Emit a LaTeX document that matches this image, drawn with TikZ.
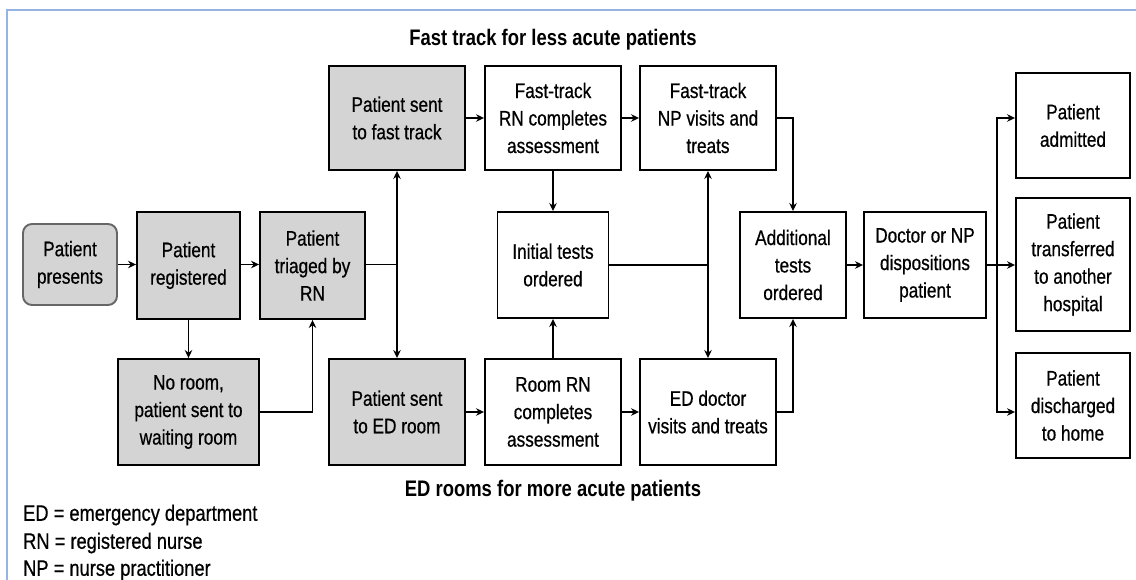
\documentclass[tikz,border=0pt]{standalone}
\usepackage{fontspec}
\setmainfont{Liberation Sans}[FakeStretch=0.82, UprightFeatures={FakeBold=0.6}]
\usetikzlibrary{arrows.meta,calc}
\definecolor{boxgray}{RGB}{212,212,212}
\definecolor{frameblue}{RGB}{150,180,225}
\tikzset{
  box/.style={draw=black, line width=1.9pt, align=center, inner sep=0pt,
    font=\fontsize{21}{27.5}\selectfont},
  grey/.style={box, fill=boxgray},
  startbox/.style={grey, draw=black!60, rounded corners=9pt},
  link/.style={line width=1.7pt, -{Stealth[length=8pt,width=7.5pt]}},
  plain/.style={line width=1.7pt},
  both/.style={line width=1.7pt, {Stealth[length=8pt,width=7.5pt]}-{Stealth[length=8pt,width=7.5pt]}},
  heading/.style={font=\bfseries\fontsize{22.5}{26}\selectfont},
  legend/.style={anchor=west, font=\fontsize{22.3}{26}\selectfont, inner sep=0pt}
}
\begin{document}
\begin{tikzpicture}[x=1pt, y=-1pt]
\useasboundingbox (0,0) rectangle (1136,580);
\fill[white] (0,0) rectangle (1136,580);
% outer frame
\draw[frameblue, line width=1.3pt] (7,580) -- (7,10) -- (1136,10);

% arrival and triage
\node[startbox, minimum width=94pt, minimum height=81pt] (pres) at (70,264.5) {Patient\\presents};
\node[grey, minimum width=103pt, minimum height=107pt] (reg) at (188.5,265.5) {Patient\\registered};
\node[grey, minimum width=105pt, minimum height=107pt] (tri) at (312.5,265.5) {Patient\\triaged by\\RN};
\node[grey, minimum width=141pt, minimum height=106pt] (wait) at (188.5,412) {No room,\\patient sent to\\waiting room};

% fast track
\node[grey, minimum width=136pt, minimum height=104pt] (fast) at (397,118) {Patient sent\\to fast track};
\node[box, minimum width=136pt, minimum height=104pt] (ftrn) at (553,118) {Fast-track\\RN completes\\assessment};
\node[box, minimum width=136pt, minimum height=104pt] (ftnp) at (708,118) {Fast-track\\NP visits and\\treats};

% tests
\node[box, minimum width=111pt, minimum height=106pt] (init) at (553,265) {Initial tests\\ordered};
\node[box, minimum width=106pt, minimum height=106pt] (addl) at (793,265) {Additional\\tests\\ordered};
\node[box, minimum width=122pt, minimum height=106pt] (disp) at (925,265) {Doctor or NP\\dispositions\\patient};

% ED rooms
\node[grey, minimum width=136pt, minimum height=106pt] (edroom) at (397,412) {Patient sent\\to ED room};
\node[box, minimum width=136pt, minimum height=106pt] (roomrn) at (553,412) {Room RN\\completes\\assessment};
\node[box, minimum width=136pt, minimum height=106pt] (eddoc) at (708,412) {ED doctor\\visits and treats};

% outcomes
\node[box, minimum width=114pt, minimum height=105pt] (adm) at (1073,125.5) {Patient\\admitted};
\node[box, minimum width=114pt, minimum height=133pt] (trans) at (1073,264.5) {Patient\\transferred\\to another\\hospital};
\node[box, minimum width=114pt, minimum height=105pt] (disc) at (1073,405.5) {Patient\\discharged\\to home};

% headings
\node[heading] (fthead) at (553,40) {Fast track for less acute patients};
\node[heading] (edhead) at (553,491) {ED rooms for more acute patients};

% legend
\node[legend] (lg1) at (23,515) {ED = emergency department};
\node[legend] (lg2) at (23,543) {RN = registered nurse};
\node[legend] (lg3) at (23,570) {NP = nurse practitioner};

% connectors
\draw[link] (pres.east) -- (reg.west |- pres.east);
\draw[link] (reg.east |- pres.east) -- (tri.west |- pres.east);
\draw[link] (reg.south) -- (wait.north);
\draw[link] (wait.east) -| (tri.south);
\draw[plain] (tri.east |- pres.east) -- (fast.south |- pres.east);
\draw[both] (fast.south) -- (edroom.north);

\draw[link] (fast.east) -- (ftrn.west);
\draw[link] (ftrn.east) -- (ftnp.west);
\draw[link] (ftrn.south) -- (init.north);
\draw[link] (roomrn.north) -- (init.south);
\draw[plain] (init.east) -- (init.east -| ftnp.south);
\draw[both] (ftnp.south) -- (eddoc.north);
\draw[link] (edroom.east) -- (roomrn.west);
\draw[link] (roomrn.east) -- (eddoc.west);

\draw[link] (ftnp.east) -| (addl.north);
\draw[link] (eddoc.east) -| (addl.south);
\draw[link] (addl.east) -- (disp.west);

\coordinate (split) at ($(disp.east)+(10,0)$);
\draw[plain] (disp.east) -- (split);
\draw[link] (split) |- (adm.west |- fast.east);
\draw[link] (split) -- (trans.west |- split);
\draw[link] (split) |- (disc.west |- eddoc.east);
\end{tikzpicture}
\end{document}
